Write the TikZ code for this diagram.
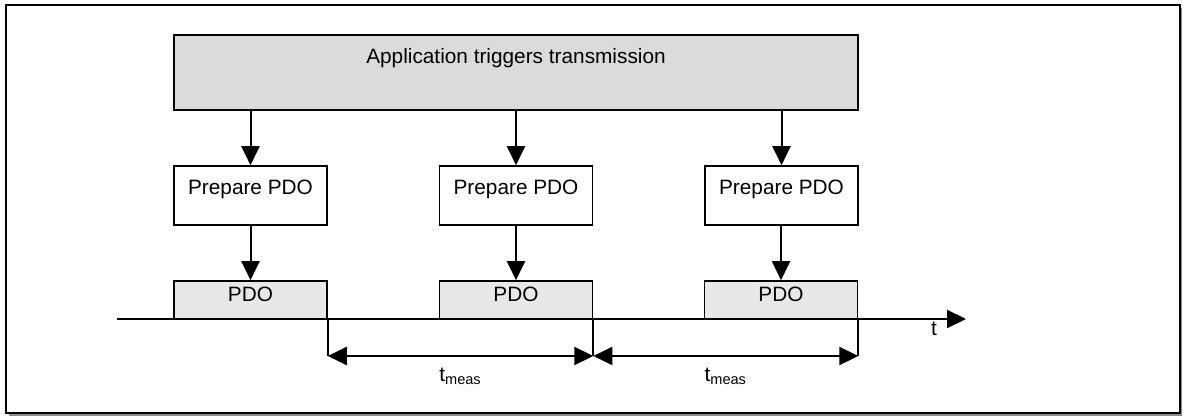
\documentclass[tikz,border=0pt]{standalone}
\usepackage{fontspec}
\setmainfont{Liberation Sans}
\usetikzlibrary{arrows.meta}

\tikzset{
  bigbox/.style={draw, fill=black!14, line width=0.8pt, minimum width=342pt, minimum height=37.5pt, inner sep=0pt},
  prepbox/.style={draw, fill=white, line width=0.8pt, minimum width=76.5pt, minimum height=29.5pt, inner sep=0pt},
  pdobox/.style={draw, fill=black!9, line width=0.8pt, minimum width=76.5pt, minimum height=19pt, inner sep=0pt},
  boxlabel/.style 2 args={label={[anchor=base, yshift=#1, inner sep=0pt]north:#2}},
  flow/.style={-{Triangle[length=9.5pt, width=9pt]}, line width=1pt},
  meas/.style={{Triangle[length=9.5pt, width=9pt]}-{Triangle[length=9.5pt, width=9pt]}, line width=1pt}
}

\begin{document}
\begin{tikzpicture}[x=0.5pt, y=-0.5pt, font=\fontsize{10.4}{12}\selectfont]
    \useasboundingbox (0,0) rectangle (1183,416);
    \fill[black!45] (9,8) rectangle (1182,416);
    \draw[line width=0.8pt, fill=white] (6,5) rectangle (1180,413);

    % application and the three preparations
    \node (app)[bigbox, boxlabel={-14.6pt}{Application triggers transmission}] at (516,72.5) {};
    \node (prep1)[prepbox, boxlabel={-14.5pt}{Prepare PDO}] at (250.5,195.5) {};
    \node (prep2)[prepbox, boxlabel={-14.5pt}{Prepare PDO}] at (516,195.5) {};
    \node (prep3)[prepbox, boxlabel={-14.5pt}{Prepare PDO}] at (781.5,195.5) {};

    % time axis
    \coordinate (tstart) at (117,319);
    \coordinate (tend) at (966,319);
    \coordinate (mline) at (0,356);
    \draw[flow] (tstart) -- (tend);
    \node (tlab) at (934,329) {t};

    \node (pdo1)[pdobox, boxlabel={-10.5pt}{PDO}] at (250.5,300) {};
    \node (pdo2)[pdobox, boxlabel={-10.5pt}{PDO}] at (516,300) {};
    \node (pdo3)[pdobox, boxlabel={-10.5pt}{PDO}] at (781,300) {};

    \draw[flow] (prep1 |- app.south) -- (prep1.north);
    \draw[flow] (prep2 |- app.south) -- (prep2.north);
    \draw[flow] (prep3 |- app.south) -- (prep3.north);
    \draw[flow] (prep1.south) -- (pdo1.north);
    \draw[flow] (prep2.south) -- (pdo2.north);
    \draw[flow] (prep3.south -| pdo3) -- (pdo3.north);

    % measured intervals
    \draw[line width=1pt] (pdo1.south east) -- (pdo1.south east |- mline);
    \draw[line width=1pt] (pdo2.south east) -- (pdo2.south east |- mline);
    \draw[line width=1pt] (pdo3.south east) -- (pdo3.south east |- mline);
    \draw[meas] (pdo1.south east |- mline) -- (pdo2.south east |- mline) node (meas1)[midway, below=2pt] {t\textsubscript{meas}};
    \draw[meas] (pdo2.south east |- mline) -- (pdo3.south east |- mline) node (meas2)[midway, below=2pt] {t\textsubscript{meas}};
\end{tikzpicture}
\end{document}
